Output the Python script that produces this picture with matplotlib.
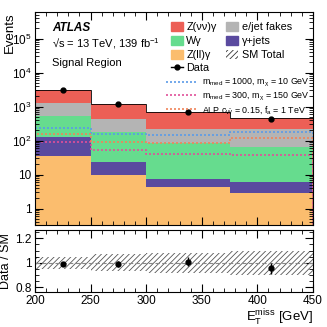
import numpy as np
import matplotlib
matplotlib.use("Agg")
import matplotlib.pyplot as plt
from matplotlib.patches import Patch
from matplotlib.lines import Line2D
from matplotlib.ticker import FuncFormatter, MultipleLocator, LogLocator

plt.rcParams["font.family"] = ["Liberation Sans", "DejaVu Sans"]
plt.rcParams["mathtext.fontset"] = "custom"
plt.rcParams["mathtext.rm"] = "Liberation Sans"
plt.rcParams["mathtext.it"] = "Liberation Sans:italic"
plt.rcParams["mathtext.bf"] = "Liberation Sans:bold"
plt.rcParams["hatch.linewidth"] = 0.6

# binning in MET [GeV]
edges = [200, 250, 300, 375, 450]
centers = [225, 275, 337.5, 412.5]

# background yields per bin (stack order bottom -> top)
zll_gamma = [35, 9.7, 4.4, 2.9]
gamma_jets = [89, 14.1, 2.8, 3.2]
w_gamma = [401, 157, 76, 60]
ejet_fakes = [725, 259, 137, 147]
znunu_gamma = [1850, 740, 480, 247]
sm_unc = [0.05, 0.07, 0.08, 0.10]

# data
data = [3050, 1160, 700, 437]
ratio = [0.99, 0.99, 1.01, 0.955]
ratio_err = [0.015, 0.025, 0.035, 0.045]

# signal models
sig_1000_10 = [238, 155, 148, 181]
sig_300_150 = [91, 52, 40, 37]
sig_alp = [158, 92, 84, 116]

c_znn = "#ec5f56"
c_fake = "#b4b4b4"
c_w = "#66dc8e"
c_gj = "#5a4a9f"
c_zll = "#fbbd6e"
dots = (0, (1.2, 1.2))

fig = plt.figure(figsize=(3.27, 3.27), dpi=100)
ax = fig.add_axes([0.107, 0.312, 0.850, 0.651])
rax = fig.add_axes([0.107, 0.107, 0.850, 0.190])

# stacked backgrounds
base = np.zeros(4)
for vals, col in [(zll_gamma, c_zll), (gamma_jets, c_gj), (w_gamma, c_w),
                  (ejet_fakes, c_fake), (znunu_gamma, c_znn)]:
    top = base + np.array(vals)
    ax.stairs(top, edges, baseline=base, fill=True, color=col, lw=0)
    base = top
sm = base
ax.stairs(sm, edges, color="black", lw=0.6)
ax.stairs(sm * (1 + np.array(sm_unc) * 0.15), edges, baseline=sm * (1 - np.array(sm_unc) * 0.15),
          fill=True, facecolor="none", edgecolor="#333333", hatch="//////", lw=0)

ax.stairs(sig_1000_10, edges, color="#5b9be8", ls=dots, lw=1.2)
ax.stairs(sig_300_150, edges, color="#e0509a", ls=dots, lw=1.2)
ax.stairs(sig_alp, edges, color="#f0845a", ls=dots, lw=1.2)

ax.errorbar(centers, data, yerr=np.sqrt(data), fmt="o", color="black", ms=3.5, lw=1)

ax.set_yscale("log")
ax.set_xlim(200, 450)
ax.set_ylim(0.33, 6e5)
ax.set_ylabel("Events", fontsize=9.5, loc="top")
ax.yaxis.set_label_coords(-0.068, 1.0)

def logfmt(v, pos):
    if v == 1:
        return "1"
    if v == 10:
        return "10"
    return r"$10^{%d}$" % round(np.log10(v))

ax.yaxis.set_major_locator(LogLocator(base=10, numticks=10))
ax.yaxis.set_major_formatter(FuncFormatter(logfmt))
ax.yaxis.set_minor_locator(LogLocator(base=10, subs=np.arange(2, 10), numticks=20))
ax.xaxis.set_major_locator(MultipleLocator(50))
ax.xaxis.set_minor_locator(MultipleLocator(10))
ax.tick_params(labelbottom=False)

for a in (ax, rax):
    a.tick_params(which="both", direction="in", top=True, right=True, labelsize=8.5, pad=2.5)
    a.tick_params(which="major", length=6)
    a.tick_params(which="minor", length=3)
    for s in a.spines.values():
        s.set_linewidth(0.8)

ax.text(0.062, 0.925, "ATLAS", transform=ax.transAxes, fontsize=8.5,
        fontweight="bold", fontstyle="italic", va="center")
ax.text(0.062, 0.85, r"√s = 13 TeV, 139 fb$^{-1}$", transform=ax.transAxes,
        fontsize=8, va="center")
ax.text(0.062, 0.762, "Signal Region", transform=ax.transAxes, fontsize=8, va="center")

bkg_handles = [Patch(color=c_znn), Patch(color=c_w), Patch(color=c_zll),
               Patch(color=c_fake), Patch(color=c_gj),
               Patch(facecolor="white", edgecolor="#333333", hatch="//////", lw=0)]
bkg_labels = ["Z(νν)γ", "Wγ", "Z(ll)γ", "e/jet fakes", "γ+jets", "SM Total"]
leg1 = ax.legend(bkg_handles, bkg_labels, ncol=2, loc="upper left",
                 bbox_to_anchor=(0.49, 0.955), frameon=False, fontsize=7.8,
                 handlelength=1.1, handleheight=0.95, handletextpad=0.3,
                 columnspacing=0.9, labelspacing=0.35, borderpad=0, borderaxespad=0)
ax.add_artist(leg1)

leg2 = ax.legend([Line2D([], [], marker="o", color="black", ms=3.5, lw=1)], ["Data"],
                 loc="upper left", bbox_to_anchor=(0.49, 0.76), frameon=False,
                 fontsize=7.8, handlelength=1.1, handletextpad=0.3, borderpad=0,
                 borderaxespad=0)
ax.add_artist(leg2)

sig_handles = [Line2D([], [], color="#5b9be8", ls=dots, lw=1.2),
               Line2D([], [], color="#e0509a", ls=dots, lw=1.2),
               Line2D([], [], color="#f0845a", ls=dots, lw=1.2)]
sig_labels = [r"$\mathregular{m_{med}}$ = 1000, $\mathregular{m_{\chi}}$ = 10 GeV",
              r"$\mathregular{m_{med}}$ = 300, $\mathregular{m_{\chi}}$ = 150 GeV",
              r"ALP $\mathregular{c_{\tilde{W}}}$ = 0.15, $\mathregular{f_a}$ = 1 TeV"]
ax.legend(sig_handles, sig_labels, loc="upper left", bbox_to_anchor=(0.47, 0.695),
          frameon=False, fontsize=6.4, handlelength=3.6, handletextpad=0.5,
          labelspacing=0.15, borderpad=0, borderaxespad=0)

# ratio panel
lo = 1 - np.array(sm_unc)
hi = 1 + np.array(sm_unc)
rax.stairs(hi, edges, baseline=lo, fill=True, facecolor="none", edgecolor="#555555",
           hatch="//////", lw=0)
rax.axhline(1, color="#888888", lw=0.8, ls=(0, (4, 2)))
rax.errorbar(centers, ratio, yerr=ratio_err, fmt="o", color="black", ms=3.5, lw=1)
rax.set_xlim(200, 450)
rax.set_ylim(0.76, 1.27)
rax.yaxis.set_major_locator(MultipleLocator(0.2))
rax.yaxis.set_minor_locator(MultipleLocator(0.05))
rax.xaxis.set_major_locator(MultipleLocator(50))
rax.xaxis.set_minor_locator(MultipleLocator(10))
rax.yaxis.set_major_formatter(FuncFormatter(lambda v, p: "1" if abs(v - 1) < 1e-6 else "%.1f" % v))
rax.set_ylabel("Data / SM", fontsize=9)
rax.yaxis.set_label_coords(-0.083, 0.5)
rax.set_xlabel(r"$\mathregular{E_T^{miss}}$ [GeV]", fontsize=9.5, loc="right", labelpad=0)

fig.savefig("out.png", dpi=100)
